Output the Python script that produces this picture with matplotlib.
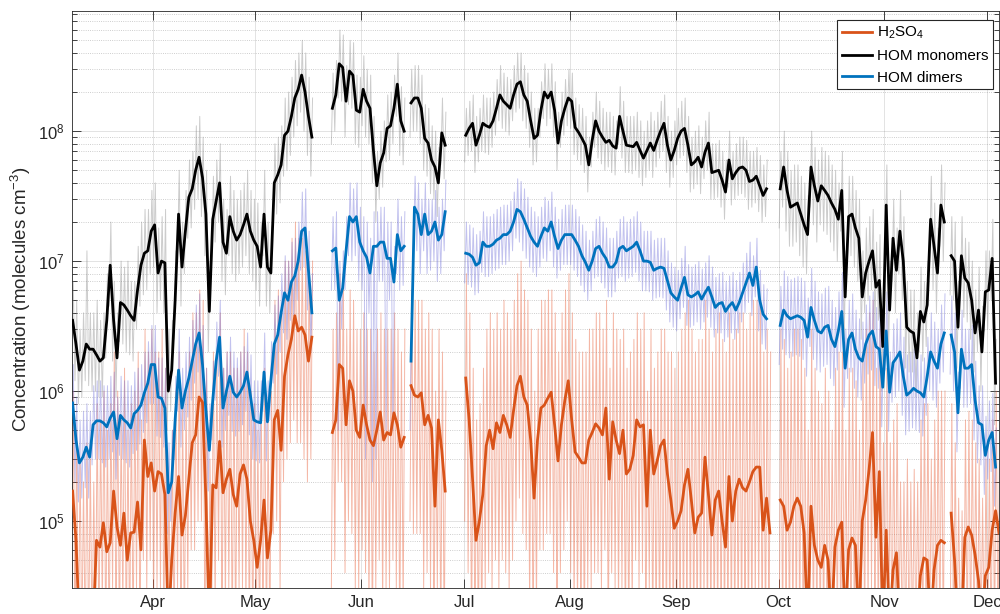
import numpy as np
import matplotlib
matplotlib.use("Agg")
import matplotlib.pyplot as plt
import matplotlib.dates as mdates
from matplotlib.ticker import LogLocator, NullFormatter

nan = np.nan

# daily values, one per day starting 8 Mar (plotted at noon); nan = no data
first_day = "2019-03-08"

h2so4_mean = [
    1.7e5, 7.1e4, 1.5e4, 1.5e4, 1.5e4, 1.5e4, 1.5e4, 7.1e4, 6.3e4, 9.7e4,
    5.8e4, 6.8e4, 1.7e5, 9.0e4, 6.5e4, 1.15e5, 5.0e4, 8.1e4, 8.2e4, 1.4e5,
    6.0e4, 4.2e5, 2.2e5, 2.8e5, 1.7e5, 2.4e5, 2.3e5, 1.6e5, 1.5e4, 5.0e4,
    1.15e5, 2.2e5, 7.8e4, 1.1e5, 2.1e5, 4.0e5, 4.6e5, 9.0e5, 8.2e5, 1.45e5,
    1.5e4, 1.9e5, 1.8e5, 4.1e5, 1.65e5, 2.1e5, 2.5e5, 1.6e5, 1.3e5, 2.3e5,
    2.7e5, 2.1e5, 1.0e5, 7.1e4, 4.4e4, 7.1e4, 1.45e5, 5.2e4, 8.5e4, 6.0e5,
    7.1e5, 3.5e5, 1.3e6, 1.9e6, 2.5e6, 3.8e6, 2.9e6, 3.1e6, 2.7e6, 1.7e6,
    2.6e6, nan, nan, nan, nan, nan, 4.8e5, 6.0e5, 1.6e6, 1.5e6,
    5.5e5, 1.2e6, 1.0e6, 5.0e5, 4.4e5, 7.8e5, 5.5e5, 4.2e5, 3.8e5, 5.0e5,
    6.9e5, 4.2e5, 4.8e5, 4.6e5, 6.8e5, 5.5e5, 3.7e5, 4.4e5, nan, 1.1e6,
    9.3e5, 9.0e5, 9.7e5, 5.5e5, 6.5e5, 5.2e5, 1.3e5, 6.0e5, 3.5e5, 1.7e5,
    nan, nan, nan, nan, nan, 1.26e6, 6.0e5, 2.1e5, 7.1e4, 1.0e5,
    1.6e5, 3.8e5, 5.0e5, 3.6e5, 5.7e5, 4.8e5, 6.5e5, 5.5e5, 4.4e5, 7.1e5,
    1.1e6, 1.3e6, 9.0e5, 7.8e5, 4.2e5, 1.5e5, 4.2e5, 7.4e5, 7.8e5, 8.8e5,
    9.8e5, 5.5e5, 2.9e5, 5.5e5, 8.5e5, 1.2e6, 6.0e5, 3.4e5, 3.1e5, 2.8e5,
    2.8e5, 4.2e5, 4.8e5, 5.6e5, 5.2e5, 4.6e5, 7.4e5, 2.1e5, 5.8e5, 4.2e5,
    3.3e5, 5.0e5, 2.3e5, 2.5e5, 3.2e5, 6.0e5, 5.3e5, 5.5e5, 1.3e5, 5.0e5,
    2.3e5, 2.9e5, 3.8e5, 4.2e5, 2.3e5, 1.45e5, 8.8e4, 1.0e5, 1.2e5, 1.9e5,
    2.5e5, 1.45e5, 8.1e4, 1.07e5, 1.15e5, 3.1e5, 1.6e5, 7.8e4, 1.45e5, 1.7e5,
    1.0e5, 6.3e4, 2.2e5, 1.0e5, 1.7e5, 2.1e5, 1.8e5, 1.7e5, 2.0e5, 2.4e5,
    2.6e5, 2.6e5, 8.5e4, 1.5e5, 8.1e4, nan, nan, 1.45e5, 1.3e5, 8.5e4,
    9.8e4, 1.3e5, 1.5e5, 1.3e5, 8.1e4, 1.5e4, 1.3e5, 6.5e4, 5.0e4, 4.4e4,
    6.5e4, 5.0e4, 1.5e4, 6.3e4, 8.5e4, 9.8e4, 1.5e4, 6.0e4, 7.4e4, 6.5e4,
    1.5e4, 1.0e5, 1.45e5, 2.5e5, 4.8e5, 7.5e4, 2.4e5, 1.5e4, 8.5e4, 1.5e4,
    4.2e4, 5.7e4, 1.5e4, 1.5e4, 1.5e4, 1.5e4, 1.5e4, 1.5e4, 3.8e4, 5.2e4,
    5.0e4, 1.5e4, 4.2e4, 6.5e4, 7.1e4, 6.8e4, nan, 1.15e5, 5.0e4, 1.5e4,
    1.5e4, 7.5e4, 9.0e4, 7.8e4, 5.5e4, 3.5e4, 1.5e4, 3.8e4, 4.4e4, 8.5e4,
    1.2e5, 8.1e4,
]
h2so4_hi = [
    1e6, 5e5, 3e5, 2e5, 4e5, 3e5, 2e5, 8e5, 6e5, 1e6,
    5e5, 8e5, 2e6, 1e6, 6e5, 1.5e6, 5e5, 8e5, 1e6, 2e6,
    6e5, 3e6, 2e6, 3e6, 2e6, 2e6, 3e6, 1.5e6, 2e5, 5e5,
    1e6, 2e6, 8e5, 1e6, 2e6, 4e6, 4e6, 6e6, 5e6, 1.5e6,
    3e5, 2e6, 2e6, 4e6, 1.5e6, 2e6, 2e6, 1.5e6, 1.5e6, 2e6,
    3e6, 2e6, 1e6, 8e5, 5e5, 8e5, 1.5e6, 6e5, 1e6, 5e6,
    6e6, 4e6, 1e7, 1e7, 1.5e7, 2e7, 1.5e7, 1.5e7, 1.2e7, 1e7,
    1e7, nan, nan, nan, nan, nan, 3e6, 4e6, 8e6, 8e6,
    3e6, 6e6, 5e6, 3e6, 3e6, 4e6, 3e6, 3e6, 2e6, 3e6,
    4e6, 3e6, 3e6, 3e6, 4e6, 3e6, 2e6, 3e6, nan, 6e6,
    5e6, 5e6, 5e6, 3e6, 4e6, 3e6, 1e6, 3e6, 2e6, 1e6,
    nan, nan, nan, nan, nan, 8e6, 4e6, 1.5e6, 6e5, 8e5,
    1.5e6, 3e6, 4e6, 3e6, 4e6, 3e6, 5e6, 4e6, 3e6, 5e6,
    8e6, 1e7, 6e6, 5e6, 3e6, 1e6, 3e6, 5e6, 5e6, 6e6,
    6e6, 4e6, 2e6, 4e6, 6e6, 8e6, 4e6, 2.5e6, 2e6, 2e6,
    2e6, 3e6, 3e6, 4e6, 4e6, 3e6, 5e6, 1.5e6, 4e6, 3e6,
    2.5e6, 3e6, 1.5e6, 2e6, 2.5e6, 4e6, 3e6, 4e6, 1e6, 3e6,
    1.5e6, 2e6, 3e6, 3e6, 2e6, 2e6, 1.5e6, 2e6, 3e6, 4e6,
    5e6, 3e6, 2e6, 2.5e6, 2.5e6, 5e6, 3e6, 2e6, 3e6, 4e6,
    2.5e6, 2e6, 4e6, 2.5e6, 3e6, 4e6, 4e6, 3e6, 4e6, 5e6,
    5e6, 5e6, 2e6, 3e6, 2e6, nan, nan, 3e6, 2.5e6, 1.5e6,
    2e6, 3e6, 3e6, 2.5e6, 1.5e6, 5e5, 3e6, 1.5e6, 1e6, 8e5,
    1.5e6, 1e6, 5e5, 1.5e6, 2e6, 2e6, 5e5, 1.5e6, 1.5e6, 1.2e6,
    5e5, 2e6, 3e6, 4e6, 5e6, 1.5e6, 3e6, 4e5, 1.5e6, 4e5,
    6e5, 8e5, 2e5, 2e5, 3e5, 2e5, 2.5e5, 2e5, 6e5, 8e5,
    8e5, 3e5, 6e5, 1e6, 1e6, 1e6, nan, 8e5, 4e5, 1.5e5,
    1.2e5, 6e5, 7e5, 6e5, 4e5, 3e5, 1.5e5, 3e5, 3e5, 6e5,
    1e6, 6e5,
]
h2so4_lo = [
    3e4, 1e4, 1e4, 1e4, 1e4, 1e4, 1e4, 1e4, 1e4, 2e4,
    1e4, 1e4, 3e4, 1e4, 1e4, 2e4, 1e4, 1e4, 1e4, 3e4,
    1e4, 5e4, 3e4, 5e4, 2e4, 3e4, 3e4, 1e4, 1e4, 1e4,
    1e4, 3e4, 1e4, 1e4, 3e4, 6e4, 6e4, 1e5, 1e5, 1e4,
    1e4, 2e4, 2e4, 5e4, 1e4, 2e4, 3e4, 1e4, 1e4, 3e4,
    3e4, 2e4, 1e4, 1e4, 1e4, 1e4, 1e4, 1e4, 1e4, 8e4,
    1e5, 3e4, 2e5, 3e5, 4e5, 6e5, 4e5, 4e5, 3e5, 2e5,
    3e5, nan, nan, nan, nan, nan, 3e4, 5e4, 2e5, 2e5,
    4e4, 1e5, 8e4, 3e4, 3e4, 6e4, 4e4, 2e4, 1e4, 3e4,
    5e4, 2e4, 3e4, 3e4, 5e4, 3e4, 1e4, 2e4, nan, 1e5,
    8e4, 8e4, 8e4, 3e4, 4e4, 3e4, 1e4, 3e4, 1e4, 1e4,
    nan, nan, nan, nan, nan, 1e5, 4e4, 1e4, 1e4, 1e4,
    1e4, 3e4, 4e4, 3e4, 5e4, 3e4, 5e4, 4e4, 3e4, 5e4,
    1e5, 1.5e5, 8e4, 6e4, 2e4, 1e4, 2e4, 6e4, 6e4, 8e4,
    8e4, 4e4, 1e4, 4e4, 6e4, 1e5, 4e4, 2e4, 2e4, 1e4,
    1e4, 3e4, 3e4, 4e4, 4e4, 3e4, 6e4, 1e4, 4e4, 3e4,
    2e4, 3e4, 1e4, 1e4, 2e4, 5e4, 3e4, 4e4, 1e4, 3e4,
    1e4, 1e4, 1e4, 1e4, 1e4, 1e4, 1e4, 1e4, 1e4, 1e4,
    1e4, 1e4, 1e4, 1e4, 1e4, 2e4, 1e4, 1e4, 1e4, 1e4,
    1e4, 1e4, 1e4, 1e4, 1e4, 1e4, 1e4, 1e4, 1e4, 1e4,
    2e4, 2e4, 1e4, 1e4, 1e4, nan, nan, 1e4, 1e4, 1e4,
    1e4, 1e4, 1e4, 1e4, 1e4, 1e4, 1e4, 1e4, 1e4, 1e4,
    1e4, 1e4, 1e4, 1e4, 1e4, 1e4, 1e4, 1e4, 1e4, 1e4,
    1e4, 1e4, 1e4, 2e4, 3e4, 1e4, 1e4, 1e4, 1e4, 1e4,
    1e4, 1e4, 1e4, 1e4, 1e4, 1e4, 1e4, 1e4, 1e4, 1e4,
    1e4, 1e4, 1e4, 1e4, 1e4, 1e4, nan, 1e4, 1e4, 1e4,
    1e4, 1e4, 1e4, 1e4, 1e4, 1e4, 1e4, 1e4, 1e4, 1e4,
    1e4, 1e4,
]

mono_mean = [
    3.5e6, 2.3e6, 1.45e6, 1.7e6, 2.3e6, 2.1e6, 2.1e6, 1.9e6, 1.7e6, 1.8e6,
    3.5e6, 9.3e6, 3.5e6, 1.8e6, 4.8e6, 4.6e6, 4.2e6, 3.8e6, 3.5e6, 6.0e6,
    9.3e6, 1.15e7, 1.2e7, 1.7e7, 1.9e7, 8.1e6, 1.0e7, 9.7e6, 1.0e6, 1.45e6,
    5.0e6, 2.3e7, 9.0e6, 1.7e7, 3.1e7, 3.6e7, 5.0e7, 6.3e7, 4.4e7, 2.3e7,
    4.1e6, 2.1e7, 2.9e7, 4.0e7, 1.4e7, 1.15e7, 2.2e7, 1.7e7, 1.45e7, 1.6e7,
    1.9e7, 2.3e7, 1.7e7, 1.45e7, 1.3e7, 9.0e6, 2.3e7, 9.0e6, 8.1e6, 4.0e7,
    4.6e7, 5.5e7, 9.3e7, 1.0e8, 1.3e8, 1.8e8, 2.1e8, 2.7e8, 2.0e8, 1.3e8,
    9.0e7, nan, nan, nan, nan, nan, 1.5e8, 1.9e8, 3.3e8, 3.1e8,
    1.7e8, 2.9e8, 2.7e8, 1.45e8, 1.4e8, 2.1e8, 1.7e8, 1.5e8, 7.1e7, 3.8e7,
    5.7e7, 6.8e7, 1.05e8, 1.1e8, 1.5e8, 2.3e8, 1.2e8, 1.0e8, nan, 1.65e8,
    1.8e8, 1.8e8, 1.5e8, 8.8e7, 8.1e7, 6.0e7, 5.3e7, 4.0e7, 9.7e7, 7.8e7,
    nan, nan, nan, nan, nan, 9.3e7, 1.05e8, 1.15e8, 7.8e7, 9.3e7,
    1.15e8, 1.1e8, 1.07e8, 1.2e8, 1.5e8, 1.9e8, 1.7e8, 1.6e8, 1.5e8, 1.9e8,
    2.3e8, 2.4e8, 1.9e8, 1.7e8, 1.2e8, 8.8e7, 9.3e7, 1.45e8, 2.0e8, 1.8e8,
    2.0e8, 1.45e8, 8.1e7, 1.2e8, 1.5e8, 1.8e8, 1.7e8, 1.07e8, 9.8e7, 8.8e7,
    7.8e7, 5.5e7, 8.5e7, 1.2e8, 1.0e8, 9.0e7, 8.2e7, 8.5e7, 7.7e7, 7.4e7,
    1.3e8, 1.0e8, 7.8e7, 7.7e7, 7.6e7, 8.2e7, 7.1e7, 6.2e7, 7.1e7, 8.1e7,
    7.1e7, 8.5e7, 1.0e8, 1.15e8, 7.8e7, 6.0e7, 7.1e7, 8.8e7, 1.0e8, 1.05e8,
    7.8e7, 5.5e7, 5.8e7, 6.3e7, 5.3e7, 6.9e7, 8.1e7, 4.8e7, 4.9e7, 5.0e7,
    4.2e7, 3.4e7, 6.0e7, 4.3e7, 4.8e7, 5.2e7, 5.3e7, 5.0e7, 4.1e7, 4.2e7,
    4.5e7, 3.8e7, 3.2e7, 3.6e7, nan, nan, nan, 3.6e7, 5.3e7, 3.5e7,
    2.6e7, 2.7e7, 2.8e7, 2.3e7, 1.9e7, 1.6e7, 5.3e7, 3.8e7, 2.9e7, 3.8e7,
    3.5e7, 3.2e7, 2.8e7, 2.5e7, 2.1e7, 3.5e7, 5.3e6, 2.2e7, 2.3e7, 1.8e7,
    1.5e7, 5.3e6, 8.1e6, 1.0e7, 1.2e7, 6.3e6, 7.1e6, 2.2e6, 2.7e7, 4.2e6,
    1.5e7, 8.5e6, 1.7e7, 1.0e7, 3.1e6, 2.9e6, 2.8e6, 1.8e6, 4.1e6, 3.4e6,
    4.6e6, 2.1e7, 1.3e7, 8.1e6, 2.7e7, 2.0e7, nan, 1.1e7, 1.0e7, 3.1e6,
    1.1e7, 7.4e6, 6.8e6, 5.0e6, 2.8e6, 4.2e6, 2.0e6, 5.8e6, 6.0e6, 1.05e7,
    1.15e6, nan,
]
mono_hi = [
    7e6, 5e6, 3e6, 4e6, 1.2e7, 4e6, 4e6, 5e6, 3.5e6, 4e6,
    8e6, 2e7, 7e6, 4e6, 1e7, 9e6, 1e7, 7e6, 7e6, 1.3e7,
    2e7, 2.5e7, 2.5e7, 3.5e7, 4e7, 1.8e7, 2.2e7, 2.5e7, 3e6, 3.5e6,
    1.2e7, 5e7, 2e7, 3.5e7, 6e7, 7e7, 1.1e8, 1.3e8, 9e7, 5e7,
    1e7, 4.5e7, 6e7, 8e7, 3e7, 2.5e7, 4.5e7, 3.5e7, 3e7, 3.5e7,
    4e7, 5e7, 3.5e7, 3e7, 2.8e7, 2e7, 5e7, 2e7, 1.8e7, 8e7,
    9e7, 1.1e8, 1.8e8, 2e8, 2.6e8, 3.5e8, 4e8, 5e8, 4e8, 2.6e8,
    1.8e8, nan, nan, nan, nan, nan, 2.8e8, 3.5e8, 6e8, 5.5e8,
    3.2e8, 5e8, 4.8e8, 2.7e8, 2.6e8, 3.8e8, 3e8, 2.7e8, 1.3e8, 7e7,
    1e8, 1.2e8, 1.9e8, 2e8, 2.7e8, 4e8, 2.2e8, 1.8e8, nan, 3e8,
    3.2e8, 3.2e8, 2.7e8, 1.6e8, 1.5e8, 1.1e8, 1e8, 7.5e7, 1.8e8, 1.4e8,
    nan, nan, nan, nan, nan, 1.5e8, 1.7e8, 1.9e8, 1.3e8, 1.5e8,
    1.9e8, 1.8e8, 1.8e8, 2e8, 2.5e8, 3.2e8, 2.8e8, 2.6e8, 2.5e8, 3.2e8,
    4e8, 4e8, 3.2e8, 2.8e8, 2e8, 1.5e8, 1.5e8, 2.4e8, 3.3e8, 3e8,
    3.3e8, 2.4e8, 1.4e8, 2e8, 2.5e8, 3e8, 2.8e8, 1.8e8, 1.6e8, 1.5e8,
    1.3e8, 9e7, 1.4e8, 2e8, 1.7e8, 1.5e8, 1.4e8, 1.4e8, 1.3e8, 1.2e8,
    2.2e8, 1.7e8, 1.3e8, 1.3e8, 1.3e8, 1.4e8, 1.2e8, 1e8, 1.2e8, 1.4e8,
    1.2e8, 1.4e8, 1.7e8, 1.9e8, 1.3e8, 1e8, 1.2e8, 1.5e8, 1.7e8, 1.8e8,
    1.3e8, 9e7, 1e8, 1.1e8, 9e7, 1.2e8, 1.4e8, 8e7, 8e7, 8.5e7,
    7e7, 6e7, 1e8, 7e7, 8e7, 9e7, 9e7, 8.5e7, 7e7, 7e7,
    7.5e7, 6.5e7, 5.5e7, 6e7, nan, nan, nan, 7e7, 1e8, 7e7,
    5e7, 5.5e7, 5.5e7, 4.5e7, 4e7, 3.2e7, 1e8, 7.5e7, 6e7, 7.5e7,
    7e7, 6.5e7, 5.5e7, 5e7, 4e7, 7e7, 1.2e7, 4.5e7, 4.5e7, 3.5e7,
    3e7, 1.2e7, 1.8e7, 2.2e7, 2.5e7, 1.4e7, 1.6e7, 5e6, 5.5e7, 1e7,
    3e7, 1.8e7, 3.5e7, 2.2e7, 7e6, 6e6, 6e6, 4e6, 9e6, 7e6,
    1e7, 4.5e7, 2.8e7, 1.8e7, 5.5e7, 4e7, nan, 2.2e7, 2e7, 7e6,
    2.2e7, 1.5e7, 1.4e7, 1e7, 6e6, 9e6, 4.5e6, 1.2e7, 1.2e7, 2.1e7,
    2.5e6, nan,
]
mono_lo = [
    1.8e6, 1.2e6, 8e5, 9e5, 1.2e6, 1.1e6, 1e6, 1e6, 9e5, 9e5,
    1.8e6, 4.5e6, 1.7e6, 9e5, 2.4e6, 2.3e6, 2e6, 1.9e6, 1.7e6, 3e6,
    4.5e6, 5.5e6, 6e6, 8e6, 9e6, 4e6, 5e6, 4e6, 5e5, 7e5,
    2.5e6, 1.1e7, 4.5e6, 8e6, 1.5e7, 1.8e7, 2.5e7, 3e7, 2.2e7, 1.1e7,
    2e6, 1e7, 1.4e7, 2e7, 7e6, 5.5e6, 1.1e7, 8e6, 7e6, 8e6,
    9e6, 1.1e7, 8e6, 7e6, 6e6, 4.5e6, 1.1e7, 4.5e6, 4e6, 2e7,
    2.3e7, 2.8e7, 4.5e7, 5e7, 6.5e7, 9e7, 1.1e8, 1.4e8, 1e8, 6.5e7,
    4.5e7, nan, nan, nan, nan, nan, 8e7, 1e8, 1.8e8, 1.7e8,
    9e7, 1.6e8, 1.5e8, 8e7, 7.5e7, 1.1e8, 9e7, 8e7, 4e7, 2e7,
    3e7, 3.7e7, 5.8e7, 6e7, 8e7, 1.3e8, 6.5e7, 5.5e7, nan, 9e7,
    1e8, 1e8, 8e7, 5e7, 4.5e7, 3.3e7, 3e7, 2.2e7, 5.5e7, 4.3e7,
    nan, nan, nan, nan, nan, 5.8e7, 6.5e7, 7e7, 4.8e7, 5.8e7,
    7e7, 6.8e7, 6.6e7, 7.5e7, 9.3e7, 1.2e8, 1.05e8, 1e8, 9.3e7, 1.2e8,
    1.4e8, 1.5e8, 1.2e8, 1.05e8, 7.5e7, 5.5e7, 5.8e7, 9e7, 1.25e8, 1.1e8,
    1.25e8, 9e7, 5e7, 7.5e7, 9.3e7, 1.1e8, 1.05e8, 6.6e7, 6e7, 5.5e7,
    4.8e7, 3.4e7, 5.3e7, 7.5e7, 6.2e7, 5.6e7, 5e7, 5.3e7, 4.8e7, 4.6e7,
    8e7, 6.2e7, 4.8e7, 4.8e7, 4.7e7, 5e7, 4.4e7, 3.8e7, 4.4e7, 5e7,
    4.4e7, 5.3e7, 6.2e7, 7e7, 4.8e7, 3.7e7, 4.4e7, 5.5e7, 6.2e7, 6.5e7,
    4.8e7, 3.4e7, 3.6e7, 3.9e7, 3.3e7, 4.3e7, 5e7, 3e7, 3e7, 3.1e7,
    2.6e7, 2.1e7, 3.7e7, 2.7e7, 3e7, 3.2e7, 3.3e7, 3.1e7, 2.5e7, 2.6e7,
    2.8e7, 2.4e7, 2e7, 2.2e7, nan, nan, nan, 1.8e7, 2.6e7, 1.7e7,
    1.3e7, 1.3e7, 1.4e7, 1.1e7, 9e6, 8e6, 2.6e7, 1.9e7, 1.4e7, 1.9e7,
    1.7e7, 1.6e7, 1.4e7, 1.2e7, 1e7, 1.7e7, 2.5e6, 1.1e7, 1.1e7, 9e6,
    7e6, 2.5e6, 4e6, 5e6, 6e6, 3e6, 3.5e6, 1e6, 1.3e7, 2e6,
    7e6, 4e6, 8e6, 5e6, 1.5e6, 1.4e6, 1.4e6, 9e5, 2e6, 1.7e6,
    2.2e6, 1e7, 6e6, 4e6, 1.3e7, 1e7, nan, 5.5e6, 5e6, 1.5e6,
    5.5e6, 3.7e6, 3.4e6, 2.5e6, 1.4e6, 2e6, 1e6, 2.9e6, 3e6, 5e6,
    5.5e5, nan,
]

dimer_mean = [
    8.1e5, 4.2e5, 2.8e5, 3.1e5, 3.7e5, 3.1e5, 5.5e5, 5.9e5, 5.9e5, 5.7e5,
    5.3e5, 6.2e5, 6.9e5, 4.3e5, 6.5e5, 6.0e5, 5.7e5, 5.2e5, 6.7e5, 7.1e5,
    7.8e5, 9.7e5, 1.15e6, 1.6e6, 1.6e6, 9.0e5, 8.8e5, 7.4e5, 1.65e5, 2.0e5,
    6.0e5, 1.45e6, 7.4e5, 1.0e6, 1.26e6, 1.7e6, 2.3e6, 2.8e6, 1.6e6, 7.1e5,
    3.5e5, 8.5e5, 1.7e6, 2.6e6, 7.4e5, 1.0e6, 1.3e6, 9.8e5, 9.0e5, 9.8e5,
    1.1e6, 1.4e6, 9.3e5, 6.0e5, 5.8e5, 5.7e5, 1.4e6, 5.8e5, 1.2e6, 2.3e6,
    2.7e6, 4.0e6, 5.7e6, 5.0e6, 6.9e6, 7.7e6, 1.0e7, 1.7e7, 1.8e7, 8.5e6,
    4.0e6, nan, nan, nan, nan, nan, 1.2e7, 1.26e7, 5.0e6, 6.2e6,
    1.2e7, 2.2e7, 2.0e7, 2.2e7, 1.4e7, 1.2e7, 1.07e7, 8.1e6, 1.3e7, 1.3e7,
    1.4e7, 1.4e7, 1.05e7, 1.05e7, 6.9e6, 1.6e7, 1.2e7, 1.3e7, nan, 1.7e6,
    2.6e7, 2.3e7, 1.6e7, 2.3e7, 1.6e7, 1.7e7, 2.0e7, 1.45e7, 1.6e7, 2.4e7,
    nan, nan, nan, nan, nan, 1.15e7, 1.13e7, 1.07e7, 9.3e6, 9.7e6,
    1.4e7, 1.3e7, 1.3e7, 1.35e7, 1.45e7, 1.5e7, 1.6e7, 1.6e7, 1.7e7, 2.0e7,
    2.5e7, 2.4e7, 2.1e7, 1.8e7, 1.55e7, 1.4e7, 1.3e7, 1.55e7, 1.8e7, 1.7e7,
    2.0e7, 1.55e7, 1.25e7, 1.45e7, 1.6e7, 1.6e7, 1.6e7, 1.45e7, 1.3e7, 1.1e7,
    9.8e6, 8.5e6, 1.0e7, 1.25e7, 1.3e7, 1.15e7, 1.05e7, 9.0e6, 9.0e6, 9.8e6,
    1.25e7, 1.3e7, 1.2e7, 1.25e7, 1.3e7, 1.4e7, 1.2e7, 1.0e7, 1.0e7, 9.8e6,
    8.5e6, 8.8e6, 9.0e6, 8.8e6, 7.1e6, 5.7e6, 5.3e6, 5.0e6, 6.2e6, 7.5e6,
    5.5e6, 5.3e6, 5.5e6, 5.8e6, 5.1e6, 5.7e6, 6.3e6, 5.3e6, 4.4e6, 4.7e6,
    4.8e6, 4.1e6, 4.5e6, 4.8e6, 4.2e6, 4.8e6, 5.7e6, 6.8e6, 8.1e6, 6.5e6,
    9.0e6, 5.0e6, 3.9e6, 3.6e6, nan, nan, nan, 3.2e6, 4.2e6, 3.8e6,
    3.6e6, 3.7e6, 3.8e6, 3.7e6, 3.5e6, 2.6e6, 4.4e6, 3.5e6, 2.9e6, 2.8e6,
    3.1e6, 3.2e6, 2.5e6, 2.2e6, 2.9e6, 4.1e6, 1.5e6, 2.5e6, 2.8e6, 2.1e6,
    1.8e6, 1.7e6, 2.3e6, 2.7e6, 2.9e6, 2.2e6, 2.1e6, 1.07e6, 2.9e6, 9.8e5,
    1.65e6, 1.8e6, 2.0e6, 1.3e6, 9.3e5, 9.8e5, 1.05e6, 1.0e6, 9.7e5, 9.0e5,
    1.3e6, 2.0e6, 1.7e6, 1.5e6, 2.3e6, 2.8e6, nan, 2.7e6, 2.0e6, 6.8e5,
    2.1e6, 1.5e6, 1.5e6, 1.6e6, 8.5e5, 5.7e5, 5.5e5, 3.2e5, 4.2e5, 4.8e5,
    2.6e5, nan,
]
dimer_hi = [
    1.6e6, 9e5, 6e5, 7e5, 8e5, 7e5, 1.1e6, 1.2e6, 1.2e6, 1.1e6,
    1.1e6, 1.3e6, 1.4e6, 9e5, 1.3e6, 1.2e6, 1.2e6, 1.1e6, 1.4e6, 1.5e6,
    1.6e6, 2e6, 2.4e6, 3.2e6, 3.2e6, 1.8e6, 1.8e6, 1.5e6, 4e5, 5e5,
    1.3e6, 3e6, 1.5e6, 2e6, 2.6e6, 3.5e6, 4.6e6, 5.6e6, 3.2e6, 1.5e6,
    8e5, 1.7e6, 3.4e6, 5e6, 1.5e6, 2e6, 2.6e6, 2e6, 1.8e6, 2e6,
    2.2e6, 2.8e6, 1.9e6, 1.2e6, 1.2e6, 1.2e6, 2.8e6, 1.2e6, 2.4e6, 4.6e6,
    5.4e6, 8e6, 1.1e7, 1e7, 1.4e7, 1.5e7, 2e7, 3.4e7, 3.6e7, 1.7e7,
    8e6, nan, nan, nan, nan, nan, 2.2e7, 2.4e7, 1e7, 1.2e7,
    2.2e7, 4e7, 3.6e7, 4e7, 2.6e7, 2.2e7, 2e7, 1.5e7, 2.4e7, 2.4e7,
    2.6e7, 2.6e7, 2e7, 2e7, 1.3e7, 3e7, 2.2e7, 2.4e7, nan, 4e6,
    4.5e7, 4e7, 3e7, 4e7, 3e7, 3e7, 3.5e7, 2.6e7, 3e7, 4.2e7,
    nan, nan, nan, nan, nan, 2e7, 1.9e7, 1.8e7, 1.6e7, 1.7e7,
    2.4e7, 2.2e7, 2.2e7, 2.3e7, 2.5e7, 2.6e7, 2.7e7, 2.7e7, 2.9e7, 3.4e7,
    4.3e7, 4.1e7, 3.6e7, 3.1e7, 2.6e7, 2.4e7, 2.2e7, 2.6e7, 3.1e7, 2.9e7,
    3.4e7, 2.6e7, 2.1e7, 2.5e7, 2.7e7, 2.7e7, 2.7e7, 2.5e7, 2.2e7, 1.9e7,
    1.7e7, 1.45e7, 1.7e7, 2.1e7, 2.2e7, 2e7, 1.8e7, 1.5e7, 1.5e7, 1.7e7,
    2.1e7, 2.2e7, 2e7, 2.1e7, 2.2e7, 2.4e7, 2e7, 1.7e7, 1.7e7, 1.7e7,
    1.45e7, 1.5e7, 1.5e7, 1.5e7, 1.2e7, 9.7e6, 9e6, 8.5e6, 1.05e7, 1.3e7,
    9.4e6, 9e6, 9.4e6, 9.9e6, 8.7e6, 9.7e6, 1.1e7, 9e6, 7.5e6, 8e6,
    8.2e6, 7e6, 7.7e6, 8.2e6, 7.1e6, 8.2e6, 9.7e6, 1.15e7, 1.4e7, 1.1e7,
    1.5e7, 8.5e6, 6.6e6, 6.1e6, nan, nan, nan, 6.4e6, 8.4e6, 7.6e6,
    7.2e6, 7.4e6, 7.6e6, 7.4e6, 7e6, 5.2e6, 8.8e6, 7e6, 5.8e6, 5.6e6,
    6.2e6, 6.4e6, 5e6, 4.4e6, 5.8e6, 8.2e6, 3e6, 5e6, 5.6e6, 4.2e6,
    3.6e6, 3.4e6, 4.6e6, 5.4e6, 5.8e6, 4.4e6, 4.2e6, 2.1e6, 5.8e6, 2e6,
    3.3e6, 3.6e6, 4e6, 2.6e6, 1.9e6, 2e6, 2.1e6, 2e6, 1.9e6, 1.8e6,
    2.6e6, 4e6, 3.4e6, 3e6, 4.6e6, 5.6e6, nan, 5.4e6, 4e6, 1.4e6,
    4.2e6, 3e6, 3e6, 3.2e6, 1.7e6, 1.1e6, 1.1e6, 6.4e5, 8.4e5, 9.6e5,
    5.2e5, nan,
]
dimer_lo = [
    4e5, 2e5, 1.4e5, 1.5e5, 1.8e5, 1.5e5, 2.7e5, 3e5, 3e5, 2.8e5,
    2.6e5, 3e5, 3.4e5, 2.1e5, 3.2e5, 3e5, 2.8e5, 2.6e5, 3.3e5, 3.5e5,
    3.9e5, 4.8e5, 5.7e5, 8e5, 8e5, 4.5e5, 4.4e5, 3.7e5, 8e4, 1e5,
    3e5, 7e5, 3.7e5, 5e5, 6.3e5, 8.5e5, 1.15e6, 1.4e6, 8e5, 3.5e5,
    1.7e5, 4.2e5, 8.5e5, 1.3e6, 3.7e5, 5e5, 6.5e5, 4.9e5, 4.5e5, 4.9e5,
    5.5e5, 7e5, 4.6e5, 3e5, 2.9e5, 2.8e5, 7e5, 2.9e5, 6e5, 1.15e6,
    1.35e6, 2e6, 2.8e6, 2.5e6, 3.5e6, 3.8e6, 5e6, 8.5e6, 9e6, 4.2e6,
    2e6, nan, nan, nan, nan, nan, 6e6, 6e6, 5e5, 3e6,
    6e6, 1.1e7, 1e7, 1.1e7, 7e6, 6e6, 3e5, 4e6, 2e5, 3e5,
    7e6, 7e6, 5e5, 5e6, 5e5, 8e6, 6e6, 6.5e6, nan, 5e5,
    1.3e7, 1.2e7, 8e6, 1.2e7, 8e6, 8.5e6, 1e7, 7e6, 8e6, 1.2e7,
    nan, nan, nan, nan, nan, 6.8e6, 6.6e6, 6.3e6, 5.5e6, 5.7e6,
    8.2e6, 7.6e6, 7.6e6, 8e6, 8.5e6, 8.8e6, 9.4e6, 9.4e6, 1e7, 1.2e7,
    1.5e7, 1.4e7, 1.2e7, 1.05e7, 9e6, 8.2e6, 7.6e6, 9e6, 1.05e7, 1e7,
    1.2e7, 9e6, 7.4e6, 8.5e6, 9.4e6, 9.4e6, 9.4e6, 8.5e6, 7.6e6, 6.5e6,
    5.8e6, 5e6, 5.9e6, 7.4e6, 7.6e6, 6.8e6, 6.2e6, 5.3e6, 5.3e6, 5.8e6,
    7.4e6, 7.6e6, 7e6, 7.4e6, 7.6e6, 8.2e6, 7e6, 5.9e6, 5.9e6, 5.8e6,
    5e6, 5.2e6, 5.3e6, 5.2e6, 4.2e6, 3.4e6, 3.1e6, 2.9e6, 3.6e6, 4.4e6,
    3.2e6, 3.1e6, 3.2e6, 3.4e6, 3e6, 3.4e6, 3.7e6, 3.1e6, 2.6e6, 2.8e6,
    2.8e6, 2.4e6, 2.6e6, 2.8e6, 2.5e6, 2.8e6, 3.4e6, 4e6, 4.8e6, 3.8e6,
    5.3e6, 2.9e6, 2.3e6, 2.1e6, nan, nan, nan, 1.6e6, 2.1e6, 1.9e6,
    1.8e6, 1.85e6, 1.9e6, 1.85e6, 1.75e6, 1.3e6, 2.2e6, 1.75e6, 1.45e6, 1.4e6,
    1.55e6, 1.6e6, 1.25e6, 1.1e6, 1.45e6, 2e6, 7.5e5, 1.25e6, 1.4e6, 1.05e6,
    9e5, 8.5e5, 1.15e6, 1.35e6, 1.45e6, 1.1e6, 1.05e6, 5.3e5, 1.45e6, 4.9e5,
    8.2e5, 9e5, 1e6, 6.5e5, 4.6e5, 4.9e5, 5.2e5, 5e5, 4.8e5, 4.5e5,
    6.5e5, 1e6, 8.5e5, 7.5e5, 1.15e6, 1.4e6, nan, 1.35e6, 1e6, 3.4e5,
    1.05e6, 7.5e5, 7.5e5, 8e5, 4.2e5, 2.8e5, 2.7e5, 1.6e5, 2.1e5, 2.4e5,
    1.3e5, nan,
]

series = [
    # label, mean, lo, hi, thick colour, faint colour, faint alpha
    ("H$_2$SO$_4$", h2so4_mean, h2so4_lo, h2so4_hi, "#D95319", "#E8603A", 0.45),
    ("HOM monomers", mono_mean, mono_lo, mono_hi, "#000000", "#808080", 0.4),
    ("HOM dimers", dimer_mean, dimer_lo, dimer_hi, "#0072BD", "#6E6ED8", 0.42),
]
for name, m, lo, hi, *_ in series:
    assert len(m) == len(lo) == len(hi) == 272, (name, len(m), len(lo), len(hi))

plt.rcParams["font.family"] = ["Liberation Sans", "DejaVu Sans"]
plt.rcParams["mathtext.default"] = "regular"
ink = "#262626"

days = np.arange(len(mono_mean))
x = mdates.date2num(np.datetime64(first_day) + np.timedelta64(12, "h")) + days
# faint trace: night low then afternoon high for every day
xf = np.column_stack([x - 0.3, x + 0.2]).ravel()

fig = plt.figure(figsize=(10, 6.14), dpi=100)
ax = fig.add_axes([0.072, 0.0423, 0.927, 0.9397])

for name, m, lo, hi, c, fc, fa in series:
    yf = np.column_stack([lo, hi]).ravel()
    ax.plot(xf, yf, color=fc, lw=0.7, alpha=fa, zorder=1)
handles = []
for name, m, lo, hi, c, fc, fa in series:
    h, = ax.plot(x, m, color=c, lw=2.0, zorder=3, label=name)
    handles.append(h)

ax.set_yscale("log")
apr1 = mdates.date2num(np.datetime64("2019-04-01"))
ax.set_xlim(apr1 - 23.67, apr1 + 247.5)
ax.set_ylim(3.05e4, 8.4e8)
ax.xaxis.set_major_locator(mdates.MonthLocator())
ax.xaxis.set_major_formatter(mdates.DateFormatter("%b"))
ax.yaxis.set_major_locator(LogLocator(base=10, numticks=12))
ax.yaxis.set_minor_locator(LogLocator(base=10, subs=np.arange(2, 10), numticks=12))
ax.yaxis.set_minor_formatter(NullFormatter())

ax.grid(True, which="major", color=ink, alpha=0.15, lw=0.6)
ax.grid(True, which="minor", axis="y", color=ink, alpha=0.3, lw=0.6, ls=":")
ax.set_axisbelow(True)
ax.tick_params(which="both", direction="in", top=True, right=True, colors=ink,
               labelcolor=ink, width=0.6, labelsize=12)
ax.tick_params(which="major", length=6.5, pad=5)
ax.tick_params(which="minor", length=3.5)
for s in ax.spines.values():
    s.set_color(ink)
    s.set_linewidth(0.6)

ax.set_ylabel("Concentration (molecules cm$^{-3}$)", fontsize=13.5, color=ink, labelpad=4)

leg = ax.legend(handles=handles, loc="upper right", bbox_to_anchor=(0.9935, 0.984),
                borderaxespad=0, fontsize=11, handlelength=2.0, handletextpad=0.3,
                labelspacing=0.5, borderpad=0.3, fancybox=False, framealpha=1,
                edgecolor=ink)
leg.get_frame().set_linewidth(0.8)

fig.savefig("out.png", dpi=100)
